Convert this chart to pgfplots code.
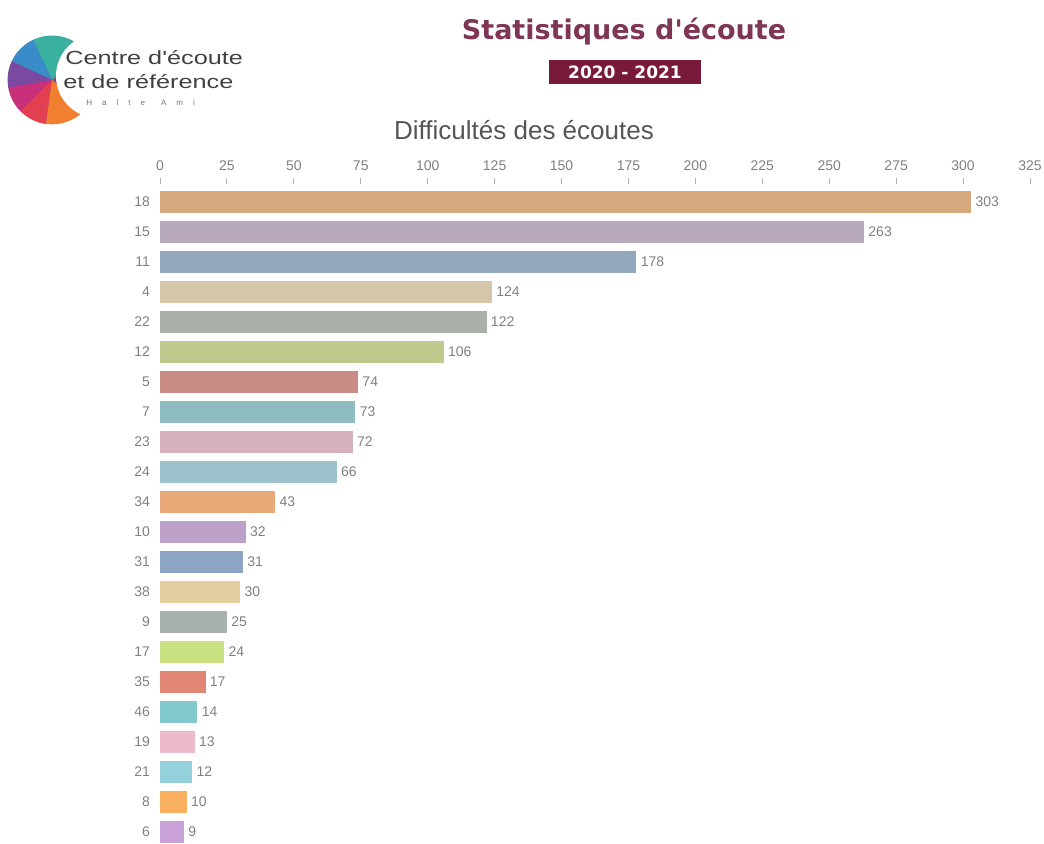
\documentclass[border=0pt]{standalone}
\usepackage{pgfplots}
\pgfplotsset{compat=1.18}
\usepackage{graphicx}
\usepackage{fontspec}
\setmainfont{Liberation Sans}
\newfontfamily\titlefont{DejaVu Sans}
\definecolor{titlec}{HTML}{7E3556}
\definecolor{badgec}{HTML}{7A1A3A}
\definecolor{txtgray}{HTML}{808080}
\definecolor{subgray}{HTML}{555555}
\definecolor{b1}{HTML}{D6A87E}
\definecolor{b2}{HTML}{B9A9BD}
\definecolor{b3}{HTML}{93A8BC}
\definecolor{b4}{HTML}{D5C5A9}
\definecolor{b5}{HTML}{A9B1A9}
\definecolor{b6}{HTML}{BDC98D}
\definecolor{b7}{HTML}{C98D85}
\definecolor{b8}{HTML}{8DBDC1}
\definecolor{b9}{HTML}{D5B1BD}
\definecolor{b10}{HTML}{9DC1CD}
\definecolor{b11}{HTML}{E9A979}
\definecolor{b12}{HTML}{BDA1C9}
\definecolor{b13}{HTML}{8DA5C5}
\definecolor{b14}{HTML}{E1CD9D}
\definecolor{b15}{HTML}{A9B1AD}
\definecolor{b16}{HTML}{C9E181}
\definecolor{b17}{HTML}{E18575}
\definecolor{b18}{HTML}{81C9CD}
\definecolor{b19}{HTML}{EDB9CD}
\definecolor{b20}{HTML}{95D1DD}
\definecolor{b21}{HTML}{F9B161}
\definecolor{b22}{HTML}{C9A1D9}
\begin{document}
\begin{tikzpicture}
\useasboundingbox (0,0) rectangle (522pt,-422pt);
% logo crescent
\begin{scope}
\coordinate (lc) at (26pt,-40pt);
\fill[color={rgb,255:red,122;green,74;blue,160}] (lc) circle (22pt);
\fill[color={rgb,255:red,58;green,176;blue,160}] (lc) -- ++(40:22.2pt) arc (40:115:22.2pt) -- cycle;
\fill[color={rgb,255:red,58;green,140;blue,200}] (lc) -- ++(115:22.2pt) arc (115:155:22.2pt) -- cycle;
\fill[color={rgb,255:red,122;green,74;blue,160}] (lc) -- ++(155:22.2pt) arc (155:190:22.2pt) -- cycle;
\fill[color={rgb,255:red,200;green,48;blue,122}] (lc) -- ++(190:22.2pt) arc (190:225:22.2pt) -- cycle;
\fill[color={rgb,255:red,224;green,64;blue,80}] (lc) -- ++(225:22.2pt) arc (225:262:22.2pt) -- cycle;
\fill[color={rgb,255:red,240;green,128;blue,48}] (lc) -- ++(262:22.2pt) arc (262:320:22.2pt) -- cycle;
\fill[white] (49pt,-38pt) circle (21pt);
\end{scope}
\node[anchor=west, text=black!75, inner sep=0pt] at (32.5pt,-29pt) {\scalebox{1.33}[1]{\fontsize{9.5}{10}\selectfont Centre d\textquotesingle écoute}};
\node[anchor=west, text=black!75, inner sep=0pt] at (31.5pt,-41pt) {\scalebox{1.33}[1]{\fontsize{9.5}{10}\selectfont et de référence}};
\node[anchor=west, text=black!55, inner sep=0pt] at (43pt,-51.5pt) {\fontsize{4}{5}\selectfont H\hspace{5pt}a\hspace{5pt}l\hspace{5pt}t\hspace{5pt}e\hspace{8pt}A\hspace{5pt}m\hspace{5pt}i};
% titles
\node[text=titlec, inner sep=0pt] at (312pt,-16pt) {\titlefont\bfseries\fontsize{13.5}{15}\selectfont Statistiques d'écoute};
\node[fill=badgec, text=white, minimum width=76pt, minimum height=12pt, inner sep=0pt] at (312.5pt,-36pt) {\titlefont\bfseries\fontsize{8.5}{9}\selectfont 2020 - 2021};
\node[text=subgray, inner sep=0pt] at (262pt,-65pt) {\fontsize{13}{15}\selectfont Difficultés des écoutes};
\begin{axis}[
  at={(80pt,-92pt)}, anchor=north west,
  scale only axis, width=435pt, height=330pt,
  xmin=0, xmax=325, ymin=-0.6, ymax=21.4, y dir=reverse,
  xbar, bar width=11pt, bar shift=0pt,
  axis line style={draw=none},
  xtick={0,25,...,325},
  xtick pos=upper, xticklabel pos=upper,
  ytick={0,...,21},
  yticklabels={18,15,11,4,22,12,5,7,23,24,34,10,31,38,9,17,35,46,19,21,8,6},
  ytick pos=left,
  tick align=outside,
  major tick length=3pt,
  xtick style={draw=gray!60, line width=0.5pt},
  ytick style={draw=none},
  tick label style={font=\fontsize{7}{8}\selectfont, text=txtgray},
  yticklabel style={xshift=1.5pt},
  /pgf/number format/assume math mode=true,
  nodes near coords,
  nodes near coords style={font=\fontsize{7}{8}\selectfont, text=txtgray, anchor=west, inner sep=2pt},
  every axis plot/.append style={draw=none},
  clip=false,
]
\addplot[fill=b1] coordinates {(303,0)};
\addplot[fill=b2] coordinates {(263,1)};
\addplot[fill=b3] coordinates {(178,2)};
\addplot[fill=b4] coordinates {(124,3)};
\addplot[fill=b5] coordinates {(122,4)};
\addplot[fill=b6] coordinates {(106,5)};
\addplot[fill=b7] coordinates {(74,6)};
\addplot[fill=b8] coordinates {(73,7)};
\addplot[fill=b9] coordinates {(72,8)};
\addplot[fill=b10] coordinates {(66,9)};
\addplot[fill=b11] coordinates {(43,10)};
\addplot[fill=b12] coordinates {(32,11)};
\addplot[fill=b13] coordinates {(31,12)};
\addplot[fill=b14] coordinates {(30,13)};
\addplot[fill=b15] coordinates {(25,14)};
\addplot[fill=b16] coordinates {(24,15)};
\addplot[fill=b17] coordinates {(17,16)};
\addplot[fill=b18] coordinates {(14,17)};
\addplot[fill=b19] coordinates {(13,18)};
\addplot[fill=b20] coordinates {(12,19)};
\addplot[fill=b21] coordinates {(10,20)};
\addplot[fill=b22] coordinates {(9,21)};
\end{axis}
\end{tikzpicture}
\end{document}
